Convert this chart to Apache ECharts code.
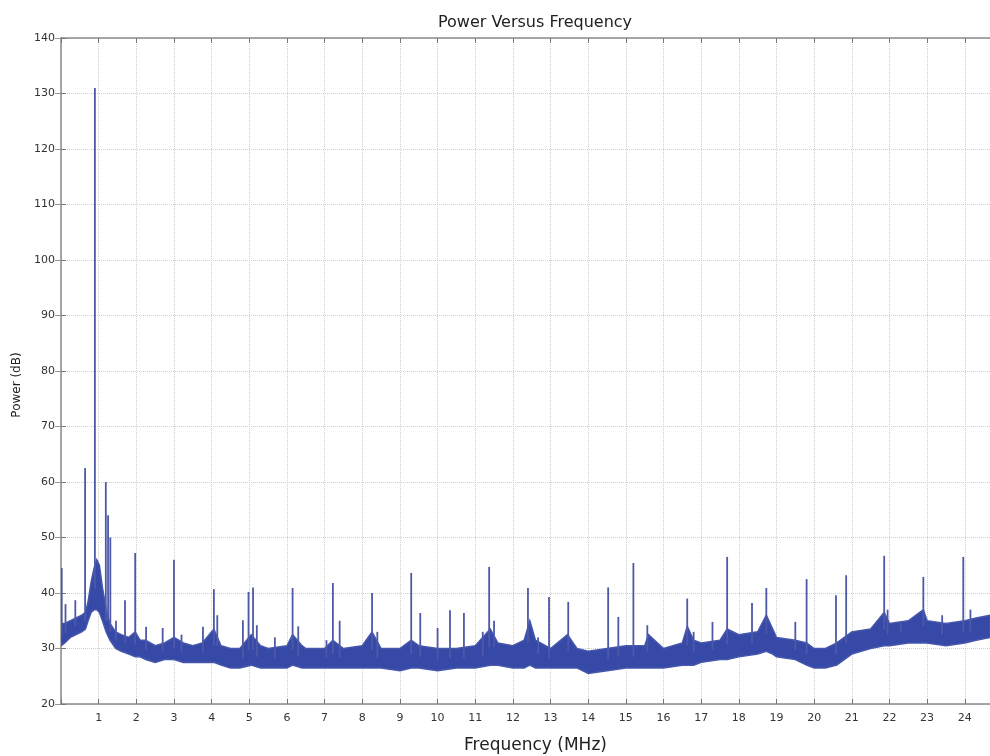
<!DOCTYPE html>
<html><head><meta charset="utf-8">
<script src="https://cdn.jsdelivr.net/npm/echarts@6/dist/echarts.min.js"></script>
<style>html,body{margin:0;padding:0;background:#fff}#c{width:990px;height:756px}</style>
</head><body><div id="c"></div>
<script>
// Noise-floor envelope (MHz, dB)
const envFreq  = [0,0.1,0.25,0.4,0.55,0.65,0.72,0.8,0.88,0.95,1.02,1.1,1.2,1.3,1.45,1.6,1.8,1.97,2.1,2.25,2.5,2.75,3.0,3.25,3.5,3.75,4.06,4.25,4.5,4.75,5.05,5.3,5.5,6.0,6.15,6.4,6.5,7.0,7.22,7.5,8.0,8.26,8.5,9.0,9.3,9.5,10.0,10.5,11.0,11.4,11.6,12.0,12.3,12.45,12.6,13.0,13.45,13.7,14.0,14.5,15.0,15.5,15.6,16.0,16.5,16.63,16.8,17.0,17.5,17.69,18.0,18.5,18.73,18.9,19.0,19.5,19.8,20.0,20.3,20.6,21.0,21.5,21.86,22.0,22.5,22.9,23.0,23.5,24.0,24.3,24.67];
const envLower = [30.5,31,32,32.5,33,33.5,35,36.5,37,37,36.5,35,33,31.5,30,29.5,29,28.5,28.5,28,27.5,28,28,27.5,27.5,27.5,27.5,27,26.5,26.5,27,26.5,26.5,26.5,27,26.5,26.5,26.5,26.5,26.5,26.5,26.5,26.5,26,26.5,26.5,26,26.5,26.5,27,27,26.5,26.5,27,26.5,26.5,26.5,26.5,25.5,26,26.5,26.5,26.5,26.5,27,27,27,27.5,28,28,28.5,29,29.5,29,28.5,28,27,26.5,26.5,27,29,30,30.5,30.5,31,31,31,30.5,31,31.5,32];
const envUpper = [34.5,34.5,35,35.5,36,36.5,38.5,42,44.5,46,45,41,37,34.5,33,32.5,32,33,31.5,31.5,30.5,31,32,31,30.5,31,33.5,30.5,30,30,32.5,30.5,30,30.5,32.5,30.5,30,30,31.5,30,30.5,33,30,30,31.5,30.5,30,30,30.5,33.5,31,30.5,31.5,35,31.5,30,32.5,30,29.5,30,30.5,30.5,32.5,30,31,34,31.5,31,31.5,33.5,32.5,33,36,33.5,32,31.5,31,30,30,31,33,33.5,36.5,34.5,35,37,35,34.5,35,35.5,36];
// Narrow spurs: frequency (MHz) and peak power (dB)
const spurFreq = [0.02,0.12,0.38,0.64,0.9,1.19,1.25,1.31,1.46,1.7,1.97,2.26,2.7,3.0,3.2,3.77,4.06,4.15,4.83,4.98,5.1,5.2,5.68,6.15,6.3,7.05,7.22,7.4,8.26,8.4,9.3,9.54,10.0,10.33,10.7,11.2,11.37,11.5,12.4,12.67,12.96,13.47,14.53,14.8,15.2,15.57,16.63,16.8,17.3,17.69,18.35,18.73,19.5,19.8,20.58,20.85,21.86,21.95,22.3,22.9,23.4,23.96,24.15];
const spurPeak = [44.5,38,38.7,62.5,131,60,54,50,35,38.7,47.2,33.9,33.7,46,32.5,33.9,40.7,36,35.1,40.2,41,34.2,32,40.9,34,31.5,41.8,35,40,33,43.6,36.4,33.7,36.9,36.4,33,44.7,35,40.9,32,39.3,38.4,41,35.7,45.4,34.2,39,33,34.8,46.5,38.2,40.9,34.8,42.5,39.6,43.2,46.7,37,34.5,42.9,36,46.5,37];
const yTicks = [20,30,40,50,60,70,80,90,100,110,120,130,140];
const xMax = 24.67;

function nearestCenter(f){
  let best=0, d=1e9;
  for(let i=0;i<envFreq.length;i++){const dd=Math.abs(envFreq[i]-f); if(dd<d){d=dd;best=i;}}
  return (envLower[best]+envUpper[best])/2;
}
const spurData = spurFreq.map((f,i)=>[f,spurPeak[i],nearestCenter(f)]);

const chart = echarts.init(document.getElementById('c'));
const axisCol = '#8a8a8a';
const gridLine = {show:true,lineStyle:{type:'dotted',color:'#cfcfcf',width:1}};
const font = 'DejaVu Sans';
chart.setOption({
  animation:false,
  backgroundColor:'#fff',
  title:{text:'Power Versus Frequency',left:530,top:10,textAlign:'center',
    textStyle:{fontFamily:font,fontSize:16,fontWeight:'normal',color:'#222'}},
  graphic:[{type:'text',x:17,y:385,rotation:Math.PI/2,
    style:{text:'Power (dB)',font:'12px "DejaVu Sans"',fill:'#222',align:'center',verticalAlign:'middle'}}],
  grid:{left:61,top:38,right:0,bottom:52,outerBoundsMode:'none',containLabel:false},
  xAxis:[{type:'value',min:0,max:xMax,interval:1,position:'bottom',
    name:'Frequency (MHz)',nameLocation:'middle',nameGap:33,
    nameTextStyle:{fontFamily:font,fontSize:17,color:'#222',padding:[0,0,0,20]},
    axisLine:{lineStyle:{color:axisCol,width:1.5}},
    axisTick:{inside:true,length:5,lineStyle:{color:'#777'}},
    axisLabel:{fontFamily:font,fontSize:11,color:'#333',margin:9,showMaxLabel:false,
      formatter:v=>v===0?'':String(v)},
    splitLine:gridLine},
    {type:'value',min:0,max:xMax,interval:1,position:'top',
    axisLine:{lineStyle:{color:axisCol,width:1.5}},
    axisTick:{inside:true,length:5,lineStyle:{color:'#777'}},
    axisLabel:{show:false},splitLine:{show:false}}],
  yAxis:[{type:'value',min:yTicks[0],max:yTicks[yTicks.length-1],interval:10,
    axisLine:{show:true,lineStyle:{color:axisCol,width:1.5}},
    axisTick:{show:true,inside:true,length:5,lineStyle:{color:'#777'}},
    axisLabel:{fontFamily:font,fontSize:11,color:'#333',margin:6},
    splitLine:gridLine},
    {type:'value',min:yTicks[0],max:yTicks[yTicks.length-1],interval:10,position:'right',
    axisLine:{show:false},
    axisTick:{show:true,inside:true,length:6,lineStyle:{color:'#999'}},
    axisLabel:{show:false},splitLine:{show:false}}],
  series:[
    {type:'custom',data:[[0,30]],encode:{x:0,y:1},z:3,silent:true,clip:true,
     renderItem:function(params,api){
       const pts=[];
       for(let i=0;i<envFreq.length;i++) pts.push(api.coord([envFreq[i],envUpper[i]]));
       for(let i=envFreq.length-1;i>=0;i--) pts.push(api.coord([envFreq[i],envLower[i]]));
       return {type:'polygon',shape:{points:pts},style:{fill:'#3649a6',stroke:'#4657ac',lineWidth:1.5}};
     }},
    {type:'custom',data:spurData,encode:{x:0,y:1},z:4,silent:true,clip:true,
     renderItem:function(params,api){
       const top=api.coord([api.value(0),api.value(1)]);
       const bot=api.coord([api.value(0),api.value(2)]);
       return {type:'line',shape:{x1:top[0],y1:top[1],x2:bot[0],y2:bot[1]},
         style:{stroke:'#4d58a8',lineWidth:1.8}};
     }}
  ]
});
</script></body></html>
